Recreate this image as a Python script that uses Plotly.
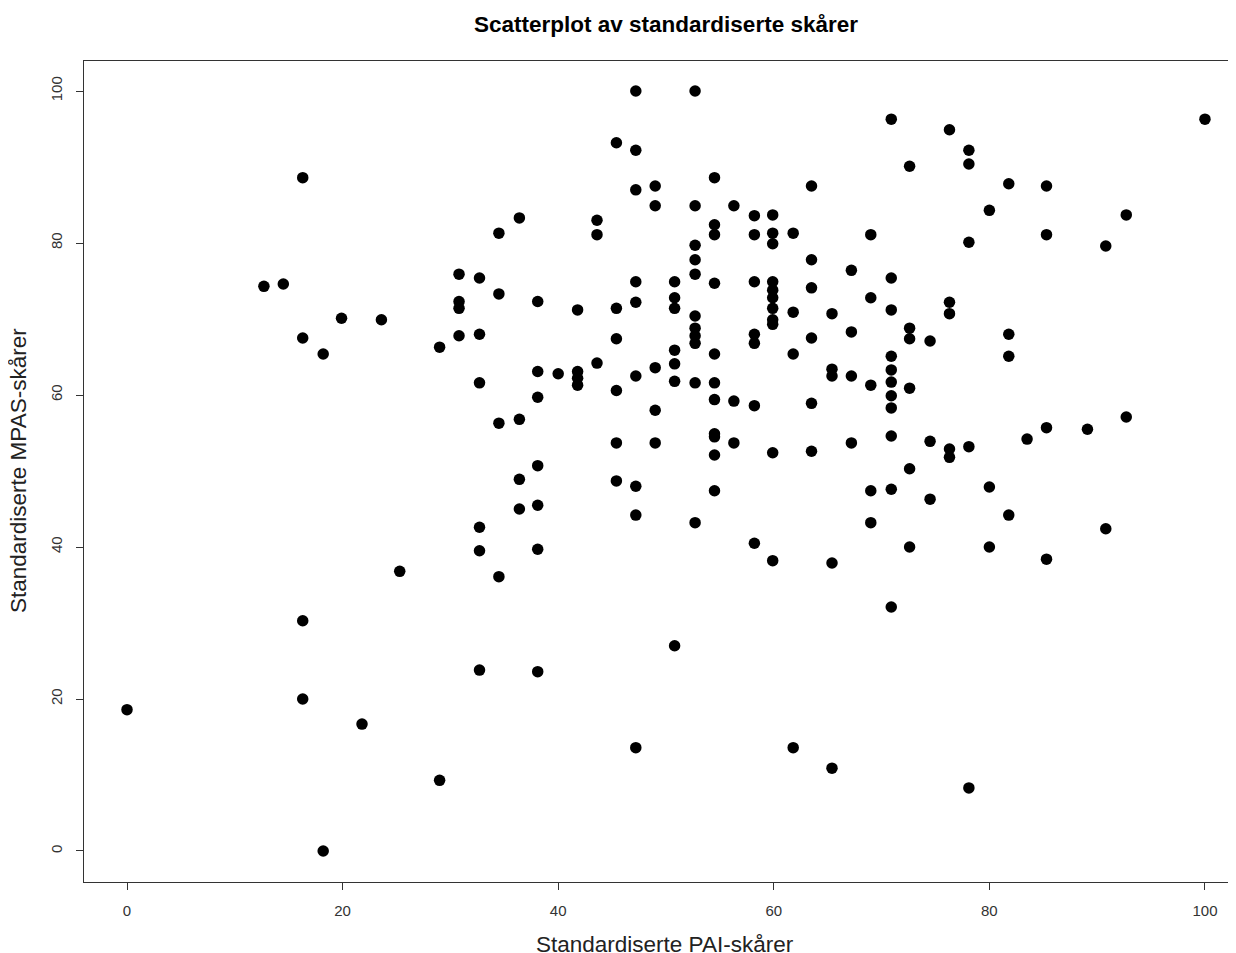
import plotly.graph_objects as go

# Standardised PAI scores (x) and MPAS scores (y)
pai = (
    [0.0, 12.7, 14.5]
    + [16.3] * 4 + [18.2] * 2 + [19.9, 21.8, 23.6, 25.3] + [29.0] * 2
    + [30.8] * 4 + [32.7] * 6 + [34.5] * 4 + [36.4] * 4 + [38.1] * 7
    + [40.0] + [41.8] * 4 + [43.6] * 3 + [45.4] * 6 + [47.2] * 9
    + [49.0] * 5 + [50.8] * 7 + [52.7] * 11 + [54.5] * 11 + [56.3] * 3
    + [58.2] * 7 + [59.9] * 11 + [61.8] * 4 + [63.5] * 6 + [65.4] * 5
    + [67.2] * 4 + [69.0] * 5 + [70.9] * 11 + [72.6] * 6 + [74.5] * 3
    + [76.3] * 5 + [78.1] * 5 + [80.0] * 3 + [81.8] * 4 + [83.5]
    + [85.3] * 4 + [89.1] + [90.8] * 2 + [92.7] * 2 + [100.0]
)
mpas = (
    [18.6, 74.3, 74.6]
    + [88.6, 67.5, 30.3, 20.0]
    + [65.4, 0.0]
    + [70.1, 16.7, 69.9, 36.8]
    + [66.3, 9.3]
    + [75.9, 72.3, 71.4, 67.8]
    + [75.4, 68.0, 61.6, 42.6, 39.5, 23.8]
    + [81.3, 73.3, 56.3, 36.1]
    + [83.3, 56.8, 48.9, 45.0]
    + [72.3, 63.1, 59.7, 50.7, 45.5, 39.7, 23.6]
    + [62.8]
    + [71.2, 63.1, 62.2, 61.3]
    + [83.0, 81.1, 64.2]
    + [93.2, 71.4, 67.4, 60.6, 53.7, 48.7]
    + [100.0, 92.2, 87.0, 74.9, 72.2, 62.5, 48.0, 44.2, 13.6]
    + [87.5, 84.9, 63.6, 58.0, 53.7]
    + [74.9, 72.8, 71.4, 65.9, 64.1, 61.8, 27.0]
    + [100.0, 84.9, 79.7, 77.8, 75.9, 70.4, 68.8, 67.8, 66.8, 61.6, 43.2]
    + [88.6, 82.4, 81.1, 74.7, 65.4, 61.6, 59.4, 54.9, 54.5, 52.1, 47.4]
    + [84.9, 59.2, 53.7]
    + [83.6, 81.1, 74.9, 68.0, 66.8, 58.6, 40.5]
    + [83.7, 81.3, 79.9, 74.9, 73.8, 72.8, 71.4, 69.9, 69.3, 52.4, 38.2]
    + [81.3, 70.9, 65.4, 13.6]
    + [87.5, 77.8, 74.1, 67.5, 58.9, 52.6]
    + [70.7, 63.4, 62.5, 37.9, 10.9]
    + [76.4, 68.3, 62.5, 53.7]
    + [81.1, 72.8, 61.3, 47.4, 43.2]
    + [96.3, 75.4, 71.2, 65.1, 63.3, 61.7, 59.9, 58.3, 54.6, 47.6, 32.1]
    + [90.1, 68.8, 67.4, 60.9, 50.3, 40.0]
    + [67.1, 53.9, 46.3]
    + [94.9, 72.2, 70.7, 52.9, 51.8]
    + [92.2, 90.4, 80.1, 53.2, 8.3]
    + [84.3, 47.9, 40.0]
    + [87.8, 68.0, 65.1, 44.2]
    + [54.2]
    + [87.5, 81.1, 55.7, 38.4]
    + [55.5]
    + [79.6, 42.4]
    + [83.7, 57.1]
    + [96.3]
)

x_ticks = [0, 20, 40, 60, 80, 100]
y_ticks = [0, 20, 40, 60, 80, 100]

title_text = "Scatterplot av standardiserte skårer"
x_label = "Standardiserte PAI-skårer"
y_label = "Standardiserte MPAS-skårer"

FONT = "Liberation Sans, Arial, sans-serif"
# The page places the figure 8px in from the top-left corner
W, H = 1228, 945
L, T, B = 76, 53, 71
PW, PH = W - L, H - T - B

fig = go.Figure(
    go.Scatter(
        x=pai, y=mpas, mode="markers",
        marker=dict(color="black", size=11.5, line=dict(width=0)),
        showlegend=False,
    )
)

fig.update_layout(
    width=W, height=H,
    paper_bgcolor="white", plot_bgcolor="white",
    margin=dict(l=L, r=0, t=T, b=B, pad=0),
    font=dict(family=FONT, color="#222"),
    title=dict(
        text="<b>" + title_text + "</b>",
        font=dict(family=FONT, size=22.5, color="black"),
        x=658 / W, xref="container", xanchor="center",
        y=1 - 16 / H, yref="container", yanchor="middle",
    ),
    annotations=[
        dict(text=x_label, xref="paper", yref="paper",
             x=(657 - L) / PW, y=-(936 - (T + PH)) / PH,
             xanchor="center", yanchor="middle", showarrow=False,
             font=dict(family=FONT, size=22.5, color="#222")),
        dict(text=y_label, xref="paper", yref="paper",
             x=-(L - 10) / PW, y=((T + PH) - 463) / PH,
             xanchor="center", yanchor="middle", showarrow=False, textangle=-90,
             font=dict(family=FONT, size=22.5, color="#222")),
    ],
)

fig.update_xaxes(
    range=[-3.99, 102.88], tickvals=x_ticks, ticks="outside", ticklen=7,
    tickcolor="#333", tickwidth=1, showline=True, linecolor="#333", linewidth=1,
    mirror=True, showgrid=False, zeroline=False, ticklabelstandoff=8,
    tickfont=dict(family=FONT, size=15, color="#333"),
)
fig.update_yaxes(
    range=[-4.08, 103.95], tickvals=y_ticks, ticks="outside", ticklen=7,
    tickcolor="#333", tickwidth=1, showline=True, linecolor="#333", linewidth=1,
    mirror=False, showgrid=False, zeroline=False, tickangle=-90,
    ticklabelstandoff=8,
    tickfont=dict(family=FONT, size=15, color="#333"),
)

fig.write_html("out.html")
